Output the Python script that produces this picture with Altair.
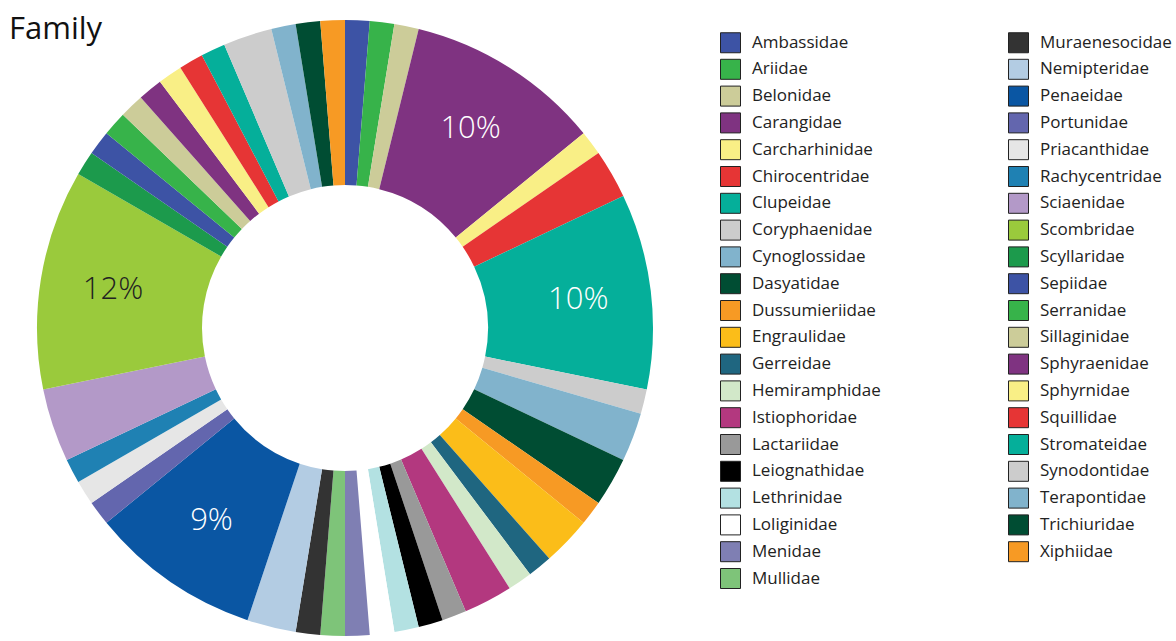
import altair as alt
import pandas as pd

families = ["Ambassidae", "Ariidae", "Belonidae", "Carangidae", "Carcharhinidae",
            "Chirocentridae", "Clupeidae", "Coryphaenidae", "Cynoglossidae", "Dasyatidae",
            "Dussumieriidae", "Engraulidae", "Gerreidae", "Hemiramphidae", "Istiophoridae",
            "Lactariidae", "Leiognathidae", "Lethrinidae", "Loliginidae", "Menidae",
            "Mullidae", "Muraenesocidae", "Nemipteridae", "Penaeidae", "Portunidae",
            "Priacanthidae", "Rachycentridae", "Sciaenidae", "Scombridae", "Scyllaridae",
            "Sepiidae", "Serranidae", "Sillaginidae", "Sphyraenidae", "Sphyrnidae",
            "Squillidae", "Stromateidae", "Synodontidae", "Terapontidae", "Trichiuridae",
            "Xiphiidae"]
counts = [1, 1, 1, 8, 1,
          2, 8, 1, 2, 2,
          1, 2, 1, 1, 2,
          1, 1, 1, 1, 1,
          1, 1, 2, 7, 1,
          1, 1, 3, 9, 1,
          1, 1, 1, 1, 1,
          1, 1, 2, 1, 1,
          1]
colors = ["#3d53a5", "#37b34a", "#cccc99", "#7f3381", "#f9ef86",
          "#e63535", "#05af9a", "#cccccc", "#81b3cc", "#004d33",
          "#f79a24", "#fbbd19", "#1f6680", "#d2e8c9", "#b3387f",
          "#999999", "#000000", "#b3e1e2", "#ffffff", "#7f7fb3",
          "#7ec479", "#333333", "#b3cce3", "#0a56a3", "#6366ae",
          "#e6e6e6", "#1f81b3", "#b399c8", "#9aca3c", "#1c9a4c",
          "#3d53a5", "#37b34a", "#cccc99", "#7f3381", "#f9ef86",
          "#e63535", "#05af9a", "#cccccc", "#81b3cc", "#004d33",
          "#f79a24"]

total = sum(counts)
labels = [f"{round(100 * c / total)}%" if c / total > 0.05 else "" for c in counts]

df = pd.DataFrame({"family": families, "count": counts, "idx": list(range(len(families))),
                   "label": labels})

base = alt.Chart(df)

arcs = base.mark_arc(innerRadius=143, outerRadius=308).encode(
    theta=alt.Theta("count:Q", stack=True),
    order=alt.Order("idx:Q", sort="ascending"),
    x=alt.value(345),
    y=alt.value(328),
    color=alt.Color("family:N", scale=alt.Scale(domain=families, range=colors),
                    legend=alt.Legend(title=None, orient="none", legendX=720, legendY=32,
                                      columns=2, columnPadding=125, rowPadding=1.8,
                                      symbolLimit=100,
                                      symbolType="square", symbolSize=400,
                                      symbolStrokeColor="#222222", symbolStrokeWidth=1,
                                      symbolOpacity=1,
                                      labelFont="Open Sans", labelFontSize=17,
                                      labelColor="#222222", labelOffset=11,
                                      labelLimit=300, padding=0)),
)

texts = base.mark_text(radius=235, font="Open Sans", fontSize=31, fontWeight=300).encode(
    theta=alt.Theta("count:Q", stack=True),
    order=alt.Order("idx:Q", sort="ascending"),
    x=alt.value(345),
    y=alt.value(328),
    text="label:N",
    color=alt.condition("datum.family == 'Scombridae'", alt.value("#222222"), alt.value("#ffffff")),
)

title = alt.Chart(pd.DataFrame({"t": ["Family"]})).mark_text(
    align="left", baseline="alphabetic", font="Open Sans", fontSize=31, color="#111111"
).encode(text="t:N", x=alt.value(9), y=alt.value(39))

chart = alt.layer(arcs, texts, title).properties(
    width=1176, height=641, autosize=alt.AutoSizeParams(type="none"), padding=0
).configure_view(stroke=None)

chart.save("out.html", embed_options={"renderer": "svg", "actions": False})
